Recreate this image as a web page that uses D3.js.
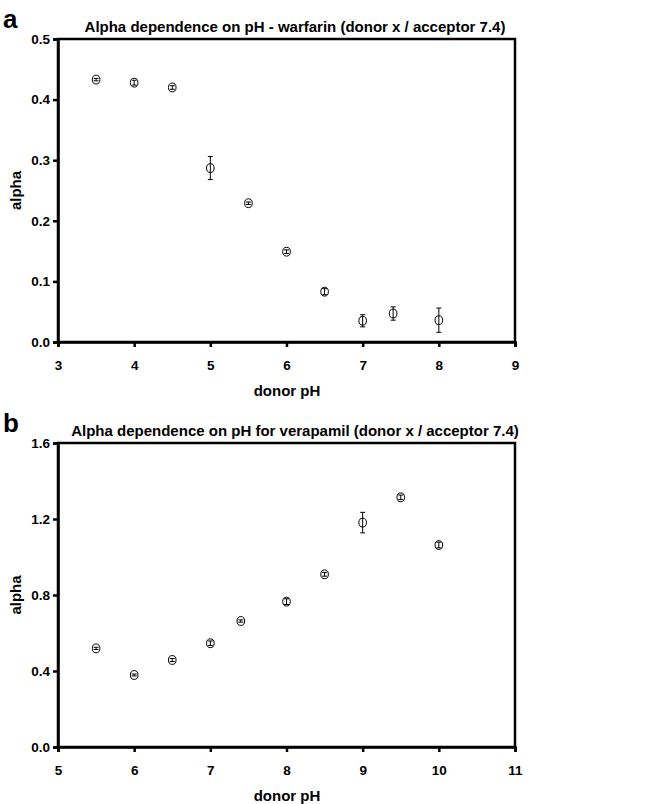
<!DOCTYPE html>
<html>
<head>
<meta charset="utf-8">
<script src="https://cdn.jsdelivr.net/npm/d3@7"></script>
<style>
  body { margin: 0; background: #fff; }
  text { font-family: "Liberation Sans", Arial, sans-serif; font-weight: bold; fill: #000; }
</style>
</head>
<body>
<svg id="chart" width="654" height="804"></svg>
<script>

// panel a - warfarin
var phA    = [3.5, 4, 4.5, 5, 5.5, 6, 6.5, 7, 7.4, 8];
var alphaA = [0.433, 0.428, 0.420, 0.287, 0.229, 0.149, 0.083, 0.035, 0.047, 0.036];
var errA   = [0.002, 0.004, 0.003, 0.019, 0.002, 0.003, 0.005, 0.010, 0.011, 0.020];
var xTicksA = [3, 4, 5, 6, 7, 8, 9];
var yTicksA = [0.0, 0.1, 0.2, 0.3, 0.4, 0.5];

// panel b - verapamil
var phB    = [5.5, 6, 6.5, 7, 7.4, 8, 8.5, 9, 9.5, 10];
var alphaB = [0.519, 0.379, 0.458, 0.546, 0.663, 0.765, 0.909, 1.181, 1.314, 1.063];
var errB   = [0.006, 0.005, 0.008, 0.012, 0.006, 0.015, 0.010, 0.054, 0.012, 0.015];
var xTicksB = [5, 6, 7, 8, 9, 10, 11];
var yTicksB = [0.0, 0.4, 0.8, 1.2, 1.6];

var svg = d3.select('#chart');

function drawPanel(opt){
    var left = 58, right = 515;
    var top = opt.top, bottom = opt.bottom;

    var x = d3.scaleLinear()
              .domain([opt.xTicks[0], opt.xTicks[opt.xTicks.length-1]])
              .range([left, right]);
    var y = d3.scaleLinear()
              .domain([opt.yTicks[0], opt.yTicks[opt.yTicks.length-1]])
              .range([bottom, top]);

    var g = svg.append('g');

    // frame (top + right lines)
    g.append('rect')
     .attr('x', left).attr('y', top)
     .attr('width', right-left).attr('height', bottom-top)
     .attr('fill', 'none').attr('stroke', '#000').attr('stroke-width', 2.5);

    var xAxis = g.append('g')
      .attr('transform', 'translate(0,' + bottom + ')')
      .call(d3.axisBottom(x).tickValues(opt.xTicks).tickFormat(d3.format('d')).tickSize(5).tickPadding(13));
    var yAxis = g.append('g')
      .attr('transform', 'translate(' + left + ',0)')
      .call(d3.axisLeft(y).tickValues(opt.yTicks).tickFormat(d3.format('.1f')).tickSize(5).tickPadding(3));

    [xAxis, yAxis].forEach(function(a){
        a.select('.domain').attr('stroke-width', 2.5);
        a.selectAll('.tick line').attr('stroke-width', 2.5);
        a.selectAll('.tick text').style('font-size', '13.5px');
    });

    var pts = opt.ph.map(function(p, i){ return {x: p, y: opt.alpha[i], e: opt.err[i]}; });

    // markers
    g.selectAll('ellipse.pt')
     .data(pts).enter().append('ellipse')
     .attr('class', 'pt')
     .attr('cx', function(d){ return x(d.x); })
     .attr('cy', function(d){ return y(d.y); })
     .attr('rx', 3.8).attr('ry', 4.4)
     .attr('fill', 'none').attr('stroke', '#000').attr('stroke-width', 1);

    // error bars
    var eb = g.selectAll('g.eb').data(pts).enter().append('g').attr('class', 'eb')
              .attr('stroke', '#000').attr('stroke-width', 1);
    eb.append('line')
      .attr('x1', function(d){ return x(d.x); }).attr('x2', function(d){ return x(d.x); })
      .attr('y1', function(d){ return y(d.y + d.e); }).attr('y2', function(d){ return y(d.y - d.e); });
    eb.append('line')
      .attr('x1', function(d){ return x(d.x) - 2.5; }).attr('x2', function(d){ return x(d.x) + 2.5; })
      .attr('y1', function(d){ return y(d.y + d.e); }).attr('y2', function(d){ return y(d.y + d.e); });
    eb.append('line')
      .attr('x1', function(d){ return x(d.x) - 2.5; }).attr('x2', function(d){ return x(d.x) + 2.5; })
      .attr('y1', function(d){ return y(d.y - d.e); }).attr('y2', function(d){ return y(d.y - d.e); });

    // title + panel letter
    svg.append('text')
       .attr('x', 295).attr('y', top - 7)
       .attr('text-anchor', 'middle')
       .style('font-size', '15px')
       .text(opt.title);
    svg.append('text')
       .attr('x', 3).attr('y', top - 11)
       .style('font-size', '26px')
       .text(opt.letter);

    // axis labels
    svg.append('text')
       .attr('x', 287).attr('y', bottom + 54)
       .attr('text-anchor', 'middle')
       .style('font-size', '15px')
       .text('donor pH');
    svg.append('text')
       .attr('transform', 'translate(21,' + ((top+bottom)/2) + ') rotate(-90)')
       .attr('text-anchor', 'middle')
       .style('font-size', '15px')
       .text('alpha');
}

drawPanel({top: 39, bottom: 342, ph: phA, alpha: alphaA, err: errA, xTicks: xTicksA, yTicks: yTicksA,
           letter: 'a', title: 'Alpha dependence on pH - warfarin (donor x / acceptor 7.4)'});
drawPanel({top: 443, bottom: 747, ph: phB, alpha: alphaB, err: errB, xTicks: xTicksB, yTicks: yTicksB,
           letter: 'b', title: 'Alpha dependence on pH for verapamil (donor x / acceptor 7.4)'});

</script>
</body>
</html>
